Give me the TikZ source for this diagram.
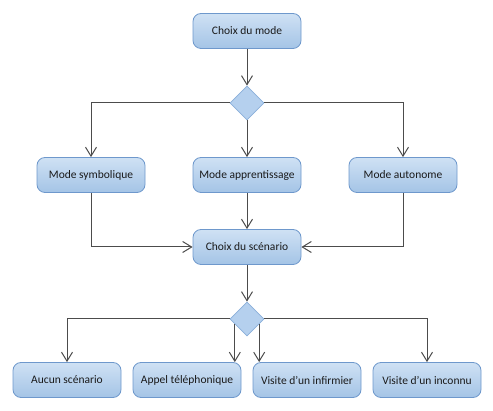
\documentclass[tikz,border=0pt]{standalone}
\usepackage{fontspec}
\setmainfont{Carlito}
\usetikzlibrary{shapes.geometric,arrows.meta,calc}
\definecolor{boxtop}{HTML}{CFE1F4}
\definecolor{boxbot}{HTML}{A4C4E6}
\definecolor{boxline}{HTML}{6E98CC}
\definecolor{diafill}{HTML}{B5D0EE}
\definecolor{dialine}{HTML}{8AAFD9}
\definecolor{txt}{HTML}{1A1A1A}
\tikzset{
  actbox/.style={draw=boxline, line width=0.8pt, rounded corners=8pt, top color=boxtop, bottom color=boxbot,
    minimum width=108pt, minimum height=35pt, inner sep=0pt, font=\fontsize{11.5}{13}\selectfont, text=txt},
  decision/.style={diamond, draw=dialine, fill=diafill, line width=0.8pt, minimum width=34pt, minimum height=34pt, inner sep=0pt, aspect=1},
  conn/.style={draw=black!70, line width=1pt},
  arr/.style={conn, -{Straight Barb[length=9pt,width=11pt,line width=1pt]}}
}
\begin{document}
\begin{tikzpicture}[x=1pt,y=-1pt]
\useasboundingbox (0,0) rectangle (493,411);
\node[actbox] (mode) at (247,31) {Choix du mode};
\node[decision] (d1) at (247,103) {};
\node[actbox] (symb) at (91,175) {Mode symbolique};
\node[actbox] (appr) at (247,175) {Mode apprentissage};
\node[actbox] (auto) at (403,175) {Mode autonome};
\node[actbox] (scen) at (247,247) {Choix du scénario};
\node[decision] (d2) at (247,319) {};
\node[actbox] (aucun) at (67,380) {Aucun scénario};
\node[actbox] (appel) at (187,380) {Appel téléphonique};
\node[actbox] (infi) at (307,380) {Visite d'un infirmier};
\node[actbox] (inco) at (427,380) {Visite d'un inconnu};

\draw[arr] (mode.south) -- (d1.north);
\draw[arr] (d1.west) -| (symb.north);
\draw[arr] (d1.south) -- (appr.north);
\draw[arr] (d1.east) -| (auto.north);
\draw[arr] (symb.south) |- (scen.west);
\draw[arr] (appr.south) -- (scen.north);
\draw[arr] (auto.south) |- (scen.east);
\draw[arr] (scen.south) -- (d2.north);
\draw[arr] (d2.west) -| (aucun.north);
\draw[arr] (d2.east) -| (inco.north);
\coordinate (pl) at ($(d2.west)!0.3!(d2.south)$);
\coordinate (pr) at ($(d2.east)!0.3!(d2.south)$);
\draw[arr] (pl) -- (pl |- appel.north);
\draw[arr] (pr) -- (pr |- infi.north);
\end{tikzpicture}
\end{document}
